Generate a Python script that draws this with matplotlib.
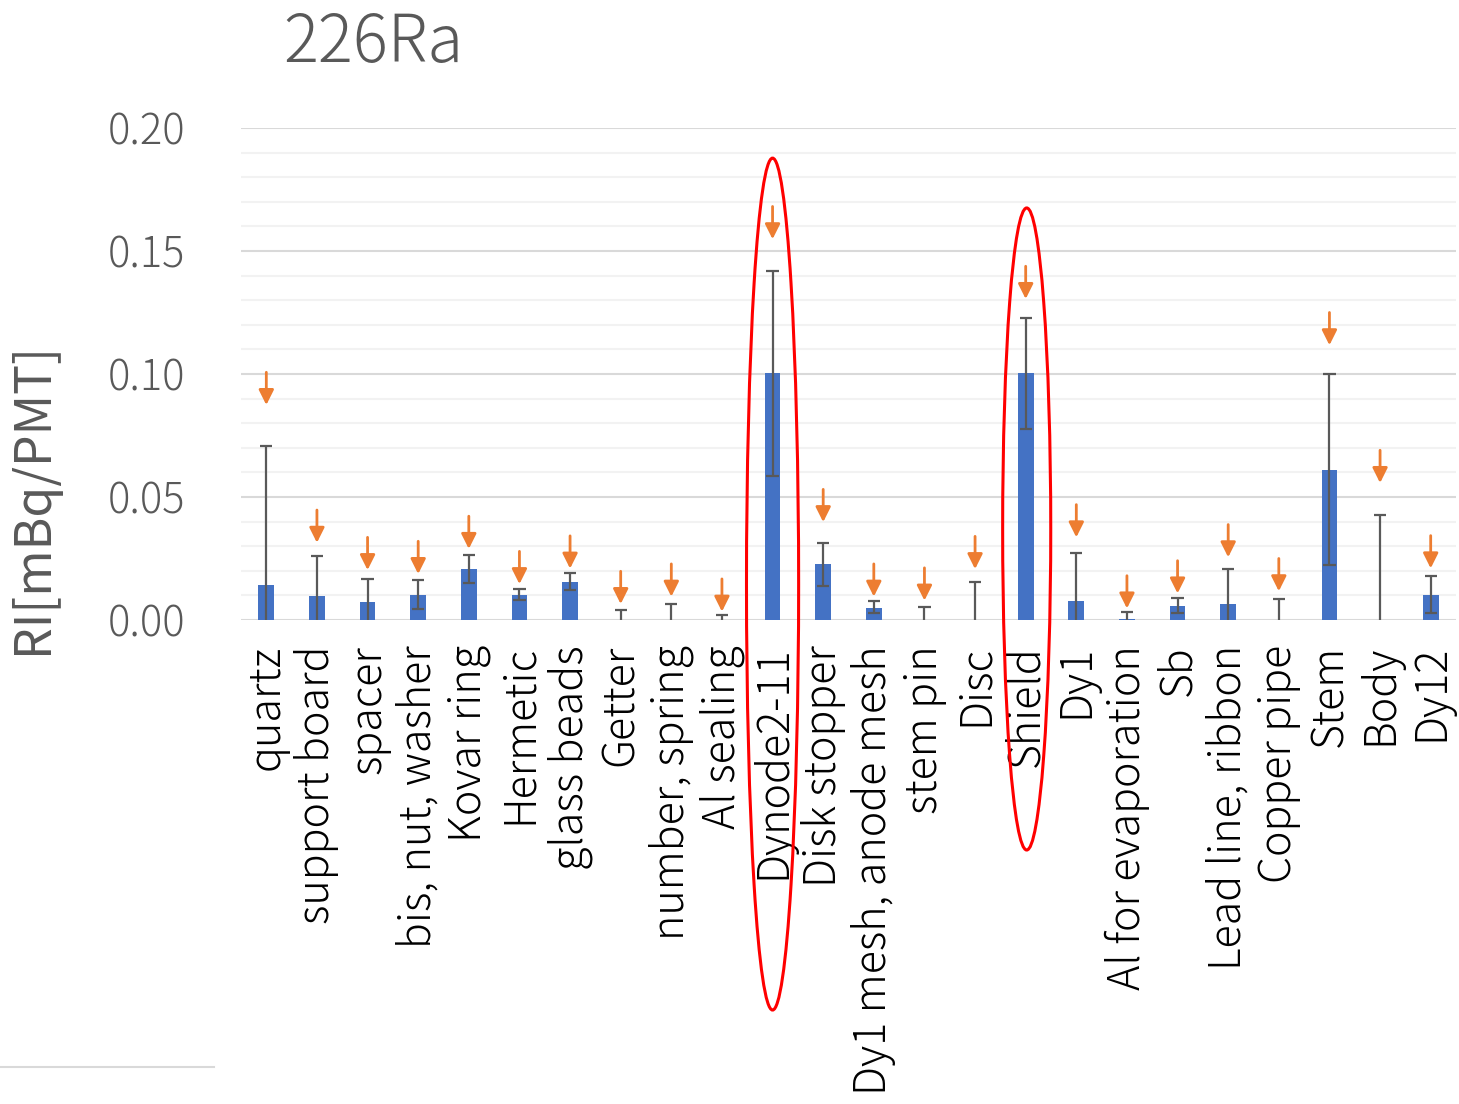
import numpy as np
import matplotlib
matplotlib.use("Agg")
import matplotlib.pyplot as plt
from matplotlib.patches import Ellipse
from matplotlib.lines import Line2D

plt.rcParams['font.family'] = ['Noto Sans CJK JP', 'DejaVu Sans']
plt.rcParams['font.weight'] = 'light'

# parts of the PMT and their measured 226Ra activity
parts = ['quartz', 'support board', 'spacer', 'bis, nut, washer', 'Kovar ring',
         'Hermetic', 'glass beads', 'Getter', 'number, spring', 'Al sealing',
         'Dynode2-11', 'Disk stopper', 'Dy1 mesh, anode mesh', 'stem pin', 'Disc',
         'Shield', 'Dy1', 'Al for evaporation', 'Sb', 'Lead line, ribbon',
         'Copper pipe', 'Stem', 'Body', 'Dy12']

ri = [0.0141, 0.0098, 0.0072, 0.0100, 0.0206, 0.0102, 0.0154, 0.0, 0.0, 0.0,
      0.1003, 0.0226, 0.0050, 0.0, 0.0, 0.1003, 0.0079, 0.0004, 0.0058, 0.0065,
      0.0, 0.0611, 0.0, 0.0103]

# error range, upper and lower end (None = runs down past zero)
err_hi = [0.0707, 0.0260, 0.0167, 0.0161, 0.0264, 0.0127, 0.0190, 0.0039, 0.0066, 0.0019,
          0.1420, 0.0313, 0.0079, 0.0054, 0.0154, 0.1229, 0.0272, 0.0031, 0.0091, 0.0206,
          0.0085, 0.1000, 0.0427, 0.0179]
err_lo = [None, None, None, 0.0043, 0.0149, 0.0080, 0.0122, None, None, None,
          0.0587, 0.0139, 0.0027, None, None, 0.0778, None, None, 0.0030, None,
          None, 0.0225, None, 0.0030]

# upper limits (arrow tips)
upper_limit = [0.0874, 0.0314, 0.0203, 0.0187, 0.0289, 0.0146, 0.0209, 0.0065, 0.0095, 0.0034,
               0.1548, 0.0398, 0.0095, 0.0079, 0.0207, 0.1305, 0.0336, 0.0047, 0.0108, 0.0255,
               0.0117, 0.1117, 0.0557, 0.0210]

txt = '#595959'
x = np.arange(len(parts))

fig = plt.figure(figsize=(14.59, 11.04), dpi=100)
ax = fig.add_axes([241/1459, 484/1104, 1215/1459, 492/1104])

ax.set_xlim(-0.5, len(parts) - 0.5)
ax.set_ylim(0, 0.20)
ax.set_yticks(np.arange(0, 0.201, 0.05))
ax.set_yticks(np.arange(0, 0.201, 0.01), minor=True)
ax.yaxis.set_major_formatter(matplotlib.ticker.FormatStrFormatter('%.2f'))
ax.grid(axis='y', which='major', color='#D9D9D9', lw=1.5, zorder=0)
ax.grid(axis='y', which='minor', color='#F2F2F2', lw=1.5, zorder=0)
ax.set_axisbelow(True)
for s in ax.spines.values():
    s.set_visible(False)

ax.bar(x, ri, width=0.31, color='#4472C4', zorder=2)

# error bars
cap = 0.12
for i in range(len(parts)):
    lo = err_lo[i] if err_lo[i] is not None else -0.01
    ax.vlines(x[i], lo, err_hi[i], color=txt, lw=1.6, zorder=3)
    ax.hlines(err_hi[i], x[i] - cap, x[i] + cap, color=txt, lw=1.6, zorder=3)
    if err_lo[i] is not None:
        ax.hlines(err_lo[i], x[i] - cap, x[i] + cap, color=txt, lw=1.6, zorder=3)

# upper limit arrows
arrow_len = 0.0133
for i in range(len(parts)):
    ax.annotate('', xy=(x[i], upper_limit[i]), xytext=(x[i], upper_limit[i] + arrow_len),
                arrowprops=dict(arrowstyle='-|>,head_length=0.9,head_width=0.45',
                                color='#ED7D31', lw=2, shrinkA=0, shrinkB=0),
                zorder=4)

ax.set_xticks(x)
ax.set_xticklabels(parts, rotation=90, fontsize=31, color='black', va='top', ha='center')
ax.tick_params(axis='x', length=0, pad=18)
ax.tick_params(axis='y', which='both', length=0, pad=40, labelsize=30, labelcolor=txt)
ax.set_ylabel('RI[mBq/PMT]', fontsize=36, color=txt)
ax.yaxis.set_label_coords(-0.150, 0.248)

# highlight Dynode2-11 and Shield
ax.add_patch(Ellipse((10, 0.0146), 1.03, 0.3463, fill=False, ec='red', lw=2.2,
                     clip_on=False, zorder=5))
ax.add_patch(Ellipse((15.02, 0.037), 0.95, 0.261, fill=False, ec='red', lw=2.2,
                     clip_on=False, zorder=5))

fig.text(283/1459, 1 - 62/1104, '226Ra', fontsize=47, color=txt, va='baseline')
fig.add_artist(Line2D([0, 214/1459], [1 - 1067/1104] * 2, color='#D9D9D9', lw=1.5))

fig.savefig('out.png', dpi=100)
